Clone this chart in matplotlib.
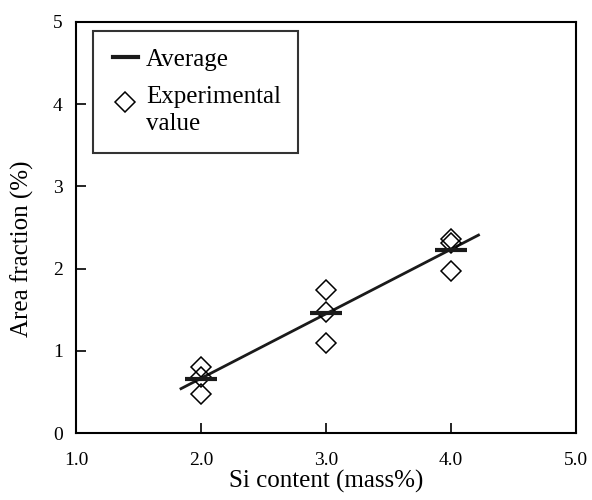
import matplotlib
matplotlib.use("Agg")
import matplotlib.pyplot as plt
from matplotlib.lines import Line2D
from matplotlib.legend_handler import HandlerLine2D
import numpy as np

plt.rcParams['font.family'] = ['Liberation Serif', 'DejaVu Serif']

si_content = [2.0, 3.0, 4.0]
experimental = [
    [0.80, 0.685, 0.47],
    [1.74, 1.47, 1.10],
    [2.36, 2.31, 1.97],
]
averages = [0.66, 1.46, 2.23]
fit_x_range = [1.84, 4.22]
x_ticks = [1.0, 2.0, 3.0, 4.0, 5.0]
x_tick_labels = ["1.0", "2.0", "3.0", "4.0", "5.0"]
y_ticks = [0, 1, 2, 3, 4, 5]


class ShiftHandler(HandlerLine2D):
    def __init__(self, dy=0.0, **kw):
        super().__init__(**kw)
        self.dy = dy

    def create_artists(self, legend, orig_handle, xdescent, ydescent, width,
                       height, fontsize, trans):
        arts = super().create_artists(legend, orig_handle, xdescent, ydescent,
                                      width, height, fontsize, trans)
        for a in arts:
            y = np.asarray(a.get_ydata(), dtype=float)
            a.set_ydata(y + self.dy)
        return arts


fig = plt.figure(figsize=(5.92, 5.00), dpi=100)
ax = fig.add_axes([76/592, 67/500, 500/592, 411/500])

# regression line through averages
coef = np.polyfit(si_content, averages, 1)
fx = np.array(fit_x_range)
ax.plot(fx, np.polyval(coef, fx), color='#1a1a1a', lw=2.0, zorder=2)

for x, vals in zip(si_content, experimental):
    ax.plot([x]*len(vals), vals, linestyle='none', marker='D', markersize=10,
            markerfacecolor='none', markeredgecolor='black', markeredgewidth=1.1, zorder=3)

ax.plot(si_content, averages, linestyle='none', marker='_', markersize=23,
        markeredgewidth=3.0, color='#1a1a1a', zorder=4)

ax.set_xlim(1.0, 5.0)
ax.set_ylim(0, 5)
ax.set_xticks(x_ticks)
ax.set_xticklabels(x_tick_labels)
ax.set_yticks(y_ticks)
ax.tick_params(direction='in', length=7, width=1.2, labelsize=14, colors='black')
ax.tick_params(axis='x', pad=14)
ax.tick_params(axis='y', pad=9.5)
for s in ax.spines.values():
    s.set_linewidth(1.5)

ax.set_xlabel("Si content (mass%)", fontsize=18)
ax.set_ylabel("Area fraction (%)", fontsize=18)
ax.xaxis.set_label_coords(0.5, -0.091)
ax.yaxis.set_label_coords(-0.084, 0.448)

handles = [
    Line2D([], [], color='#1a1a1a', lw=3.0),
    Line2D([], [], linestyle='none', marker='D', markersize=10,
           markerfacecolor='none', markeredgecolor='black', markeredgewidth=1.1),
]
leg = ax.legend(handles, ["Average", "Experimental\nvalue"], loc='upper left',
                bbox_to_anchor=(0.033, 0.979), borderaxespad=0, fontsize=18,
                frameon=True, fancybox=False, handlelength=1.13, handletextpad=0.3,
                borderpad=0.7, labelspacing=0.63, edgecolor='black',
                handler_map={handles[0]: HandlerLine2D(xpad=0.1),
                             handles[1]: ShiftHandler(dy=6.5, xpad=0.1)})
leg.get_frame().set_linewidth(1.5)
for t in leg.get_texts():
    t.set_linespacing(1.3)

fig.savefig("out.png", dpi=100)
